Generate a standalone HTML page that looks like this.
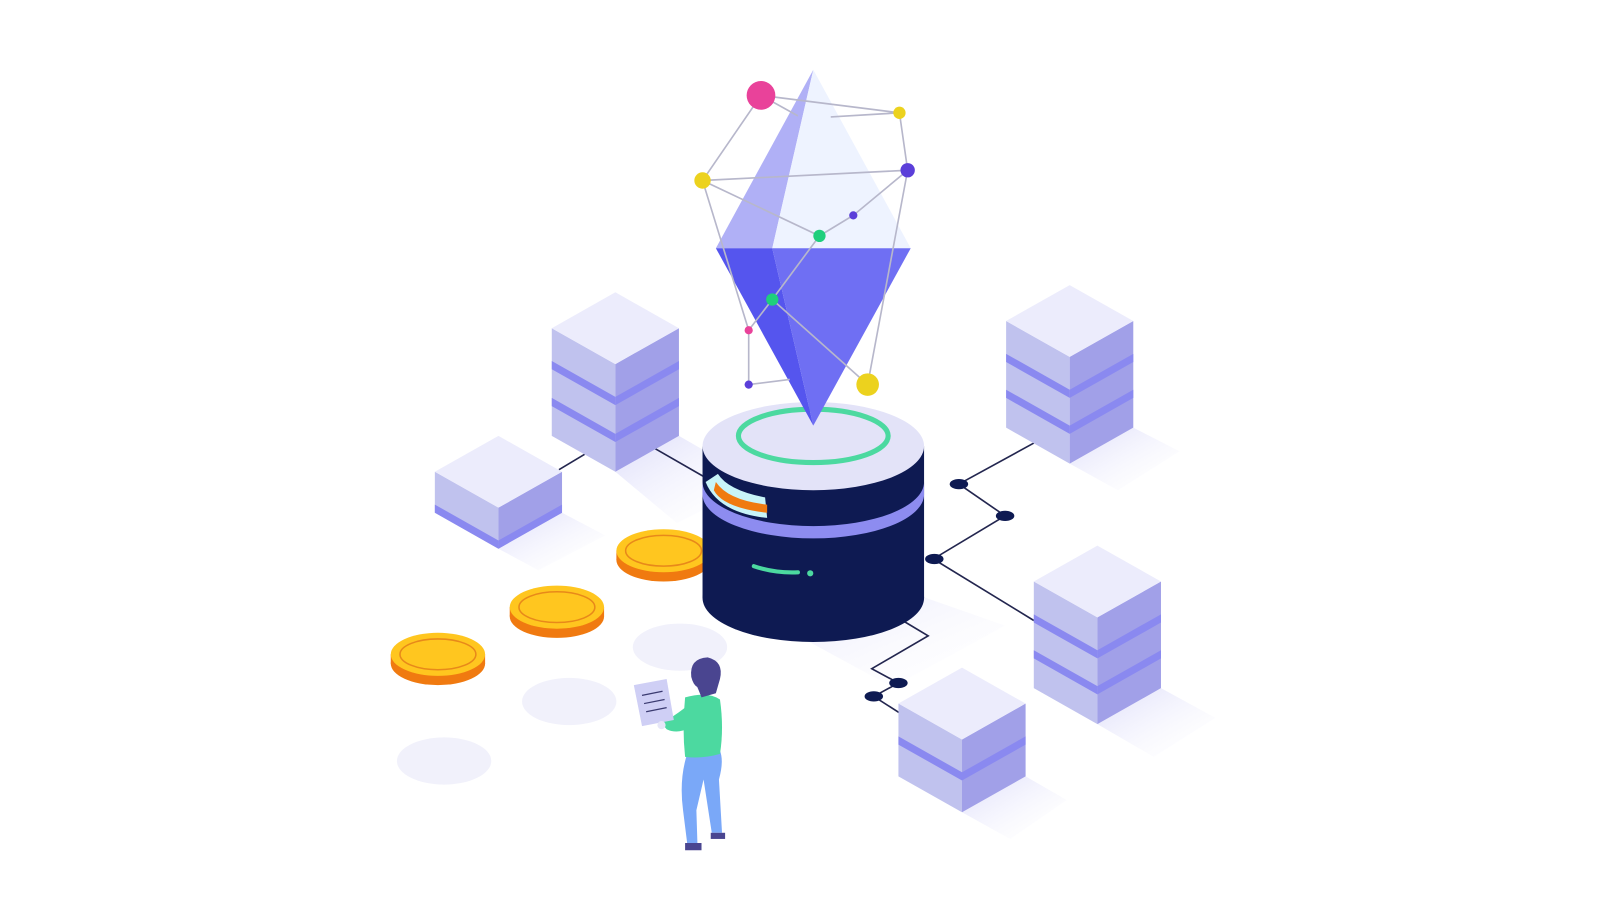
<!DOCTYPE html>
<html><head><meta charset="utf-8"><style>html,body{margin:0;padding:0;background:#fff;width:1600px;height:900px;overflow:hidden}</style></head>
<body>
<svg width="1600" height="900" viewBox="0 0 1600 900" xmlns="http://www.w3.org/2000/svg">
<defs>
<linearGradient id="sh" x1="0" y1="0" x2="1" y2="1"><stop offset="0" stop-color="#dcdcfa"/><stop offset="1" stop-color="#fff" stop-opacity="0"/></linearGradient>
</defs>
<g transform="scale(1.0256)">
<polygon points="600,460 662,425 740,470 660,510" fill="url(#sh)"/>
<polygon points="486,535 548,500 590,522 525,556" fill="url(#sh)"/>
<polygon points="1043,452 1105,417 1150,440 1090,478" fill="url(#sh)"/>
<polygon points="1070,706 1132,671 1185,700 1125,738" fill="url(#sh)"/>
<polygon points="938,792 1000,757 1040,780 985,818" fill="url(#sh)"/>
<polygon points="760,610 880,575 980,610 870,670" fill="url(#sh)" opacity="0.7"/>
<ellipse cx="663" cy="631" rx="46" ry="23" fill="#f1f1fb"/>
<ellipse cx="555" cy="684" rx="46" ry="23" fill="#f1f1fb"/>
<ellipse cx="433" cy="742" rx="46" ry="23" fill="#f1f1fb"/>
<g stroke="#23264f" stroke-width="1.6" fill="none">
<polyline points="1008,432 935,472 980,503 910,545 1008,605"/>
<polyline points="880,605 905,620 850,652 876,666 852,679 880,697"/>
<line x1="570" y1="443" x2="545" y2="458"/>
<line x1="638" y1="437" x2="692" y2="468"/>
</g>
<g fill="#0e1a52">
<ellipse cx="935" cy="472" rx="9" ry="5"/><ellipse cx="980" cy="503" rx="9" ry="5"/><ellipse cx="911" cy="545" rx="9" ry="5"/>
<ellipse cx="876" cy="666" rx="9" ry="5"/><ellipse cx="852" cy="679" rx="9" ry="5"/>
</g>
<polygon points="538,320 600,355 600,460 538,425" fill="#c0c2ee"/>
<polygon points="662,320 600,355 600,460 662,425" fill="#a1a0e8"/>
<polygon points="538,352 600,387 600,395 538,360" fill="#8a89f0"/>
<polygon points="662,352 600,387 600,395 662,360" fill="#8a89f0"/>
<polygon points="538,388 600,423 600,431 538,396" fill="#8a89f0"/>
<polygon points="662,388 600,423 600,431 662,396" fill="#8a89f0"/>
<polygon points="600,285 662,320 600,355 538,320" fill="#ececfc"/>
<polygon points="424,460 486,495 486,535 424,500" fill="#c0c2ee"/>
<polygon points="548,460 486,495 486,535 548,500" fill="#a1a0e8"/>
<polygon points="424,492 486,527 486,535 424,500" fill="#8a89f0"/>
<polygon points="548,492 486,527 486,535 548,500" fill="#8a89f0"/>
<polygon points="486,425 548,460 486,495 424,460" fill="#ececfc"/>
<polygon points="981,313 1043,348 1043,452 981,417" fill="#c0c2ee"/>
<polygon points="1105,313 1043,348 1043,452 1105,417" fill="#a1a0e8"/>
<polygon points="981,345 1043,380 1043,388 981,353" fill="#8a89f0"/>
<polygon points="1105,345 1043,380 1043,388 1105,353" fill="#8a89f0"/>
<polygon points="981,380 1043,415 1043,423 981,388" fill="#8a89f0"/>
<polygon points="1105,380 1043,415 1043,423 1105,388" fill="#8a89f0"/>
<polygon points="1043,278 1105,313 1043,348 981,313" fill="#ececfc"/>
<polygon points="1008,567 1070,602 1070,706 1008,671" fill="#c0c2ee"/>
<polygon points="1132,567 1070,602 1070,706 1132,671" fill="#a1a0e8"/>
<polygon points="1008,599 1070,634 1070,642 1008,607" fill="#8a89f0"/>
<polygon points="1132,599 1070,634 1070,642 1132,607" fill="#8a89f0"/>
<polygon points="1008,634 1070,669 1070,677 1008,642" fill="#8a89f0"/>
<polygon points="1132,634 1070,669 1070,677 1132,642" fill="#8a89f0"/>
<polygon points="1070,532 1132,567 1070,602 1008,567" fill="#ececfc"/>
<polygon points="876,686 938,721 938,792 876,757" fill="#c0c2ee"/>
<polygon points="1000,686 938,721 938,792 1000,757" fill="#a1a0e8"/>
<polygon points="876,718 938,753 938,761 876,726" fill="#8a89f0"/>
<polygon points="1000,718 938,753 938,761 1000,726" fill="#8a89f0"/>
<polygon points="938,651 1000,686 938,721 876,686" fill="#ececfc"/>
<ellipse cx="647" cy="546" rx="46" ry="21" fill="#f07a10"/><rect x="601" y="537" width="92" height="9" fill="#f07a10"/>
<ellipse cx="647" cy="537" rx="46" ry="21" fill="#ffc61f"/><ellipse cx="647" cy="537" rx="37" ry="15" fill="none" stroke="#e8891a" stroke-width="1.5"/>
<ellipse cx="543" cy="601" rx="46" ry="21" fill="#f07a10"/><rect x="497" y="592" width="92" height="9" fill="#f07a10"/>
<ellipse cx="543" cy="592" rx="46" ry="21" fill="#ffc61f"/><ellipse cx="543" cy="592" rx="37" ry="15" fill="none" stroke="#e8891a" stroke-width="1.5"/>
<ellipse cx="427" cy="647" rx="46" ry="21" fill="#f07a10"/><rect x="381" y="638" width="92" height="9" fill="#f07a10"/>
<ellipse cx="427" cy="638" rx="46" ry="21" fill="#ffc61f"/><ellipse cx="427" cy="638" rx="37" ry="15" fill="none" stroke="#e8891a" stroke-width="1.5"/>
<ellipse cx="793" cy="583" rx="108" ry="43" fill="#0e1a52"/>
<rect x="685" y="435" width="216" height="148" fill="#0e1a52"/>
<path d="M685,470 A108,43 0 0 0 901,470 L901,482 A108,43 0 0 1 685,482 Z" fill="#8d8cf0"/>
<path d="M688,470 Q700,500 748,505 L746,485 Q710,478 700,462 Z" fill="#c8f4f8"/>
<path d="M696,478 Q705,495 748,500 L748,492 Q710,488 698,470 Z" fill="#f07a10"/>
<ellipse cx="793" cy="435" rx="108" ry="43" fill="#e3e3f8"/>
<ellipse cx="793" cy="425" rx="73" ry="26" fill="none" stroke="#4cd9a0" stroke-width="5"/>
<path d="M735,552 Q755,559 778,558" stroke="#4cd9a0" stroke-width="4" fill="none" stroke-linecap="round"/>
<circle cx="790" cy="559" r="3" fill="#4cd9a0"/>
<polygon points="698,242 793,68 753,242" fill="#b0b0f6"/>
<polygon points="793,68 888,242 753,242" fill="#eef3ff"/>
<polygon points="698,242 753,242 793,415" fill="#5555ee"/>
<polygon points="753,242 888,242 793,415" fill="#6f6ff3"/>
<g stroke="#b7b7cb" stroke-width="1.6" fill="none">
<polyline points="742,93 877,110 885,166 832,210 799,230 685,176 742,93"/>
<line x1="742" y1="93" x2="778" y2="113"/>
<line x1="877" y1="110" x2="810" y2="114"/>
<line x1="685" y1="176" x2="885" y2="166"/>
<polyline points="799,230 753,292 846,375 885,166"/>
<polyline points="685,176 730,322 730,375 770,370"/>
<line x1="753" y1="292" x2="730" y2="322"/>
</g>
<circle cx="742" cy="93" r="14" fill="#e9429a"/>
<circle cx="877" cy="110" r="6" fill="#ecd21e"/>
<circle cx="885" cy="166" r="7" fill="#5b3fd9"/>
<circle cx="685" cy="176" r="8" fill="#ecd21e"/>
<circle cx="799" cy="230" r="6" fill="#1fcf7c"/>
<circle cx="832" cy="210" r="4" fill="#5b3fd9"/>
<circle cx="753" cy="292" r="6" fill="#1fcf7c"/>
<circle cx="730" cy="322" r="4" fill="#e9429a"/>
<circle cx="730" cy="375" r="4" fill="#5b3fd9"/>
<circle cx="846" cy="375" r="11" fill="#ecd21e"/>
<path d="M670,735 Q662,760 666,790 L670,822 L680,822 L679,790 L686,760 L694,812 L704,812 L701,760 Q706,742 702,732 Z" fill="#7aa8f8"/>
<path d="M668,822 L684,822 L684,829 L668,829 Z" fill="#4a4590"/>
<path d="M693,812 L707,812 L707,818 L693,818 Z" fill="#4a4590"/>
<path d="M668,680 Q690,674 702,682 Q706,710 702,735 Q685,740 668,738 Q665,710 668,680 Z" fill="#4cd9a0"/>
<path d="M668,690 Q655,700 645,705 L650,711 Q660,716 672,710 Z" fill="#4cd9a0"/>
<polygon points="618,668 650,662 657,702 626,708" fill="#cfcff5"/>
<g stroke="#3a3a70" stroke-width="1.2"><line x1="626" y1="678" x2="646" y2="674"/><line x1="628" y1="686" x2="648" y2="682"/><line x1="630" y1="694" x2="650" y2="690"/></g>
<circle cx="645" cy="707" r="4" fill="#e6e6f8"/>
<ellipse cx="688" cy="664" rx="10" ry="12" fill="#e6e6f8"/>
<path d="M674,660 Q672,642 690,641 Q706,645 702,662 L698,676 L684,680 L680,670 Q676,668 674,660 Z" fill="#4a4590"/>
</g>
</svg>
</body></html>
